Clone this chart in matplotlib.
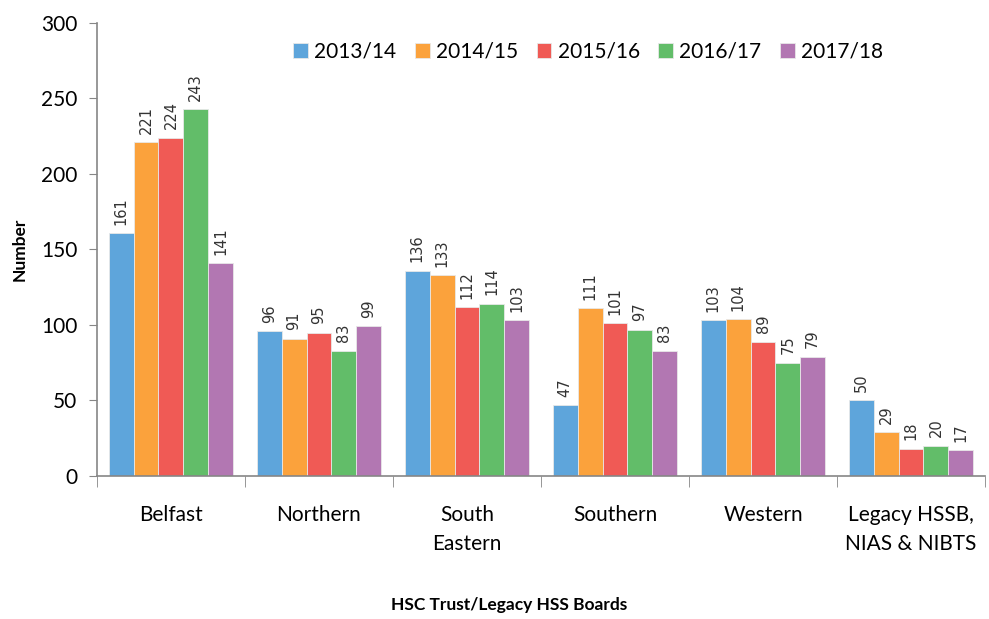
import numpy as np
import matplotlib.pyplot as plt

# data
categories = ["Belfast", "Northern", "South\nEastern", "Southern", "Western",
              "Legacy HSSB,\nNIAS & NIBTS"]
years = ["2013/14", "2014/15", "2015/16", "2016/17", "2017/18"]
v_2013 = [161, 96, 136, 47, 103, 50]
v_2014 = [221, 91, 133, 111, 104, 29]
v_2015 = [224, 95, 112, 101, 89, 18]
v_2016 = [243, 83, 114, 97, 75, 20]
v_2017 = [141, 99, 103, 83, 79, 17]
series = [v_2013, v_2014, v_2015, v_2016, v_2017]
colours = ["#5ea5db", "#fba23c", "#f05a55", "#62bd69", "#b277b2"]

fig = plt.figure(figsize=(9.89, 6.19), dpi=100)
ax = fig.add_axes([0.098, 0.231, 0.898, 0.732])

x = np.arange(len(categories))
w = 0.168
for i, (vals, col, yr) in enumerate(zip(series, colours, years)):
    pos = x + (i - 2) * w
    ax.bar(pos, vals, w, color=col, edgecolor="#e8e8e8", linewidth=0.6, label=yr)
    for p, v in zip(pos, vals):
        ax.annotate(str(v), (p, v), xytext=(0, 6), textcoords="offset points",
                    rotation=90, ha="center", va="bottom", fontsize=10.5,
                    color="#333333", family="DejaVu Sans")

ax.set_xlim(-0.5, len(categories) - 0.5)
ax.set_ylim(0, 300)
ax.set_yticks(range(0, 301, 50))
ax.set_xticks(x)
ax.set_xticklabels(categories, fontsize=15, family="Lato", linespacing=1.55)
ax.set_xticks(np.arange(-0.5, len(categories)), minor=True)
ax.tick_params(axis="x", which="major", length=0, pad=21)
ax.tick_params(axis="x", which="minor", length=8, color="#868686")
ax.tick_params(axis="y", length=6, color="#868686", labelsize=15, pad=8)
for lab in ax.get_yticklabels():
    lab.set_family("Lato")

for s in ["top", "right"]:
    ax.spines[s].set_visible(False)
for s in ["left", "bottom"]:
    ax.spines[s].set_color("#868686")
    ax.spines[s].set_linewidth(1.2)

ax.set_ylabel("Number", fontsize=12.5, fontweight="bold", family="Lato", labelpad=10)
fig.text(0.515, 0.01, "HSC Trust/Legacy HSS Boards", ha="center", va="bottom",
         fontsize=12.5, fontweight="bold", family="Lato")

ax.legend(ncol=5, loc="upper left", bbox_to_anchor=(0.2, 1.0), frameon=False,
          prop={"family": "Lato", "size": 15}, handlelength=0.7, handleheight=0.7,
          handletextpad=0.3, columnspacing=0.9)

fig.savefig("out.png", dpi=100)
